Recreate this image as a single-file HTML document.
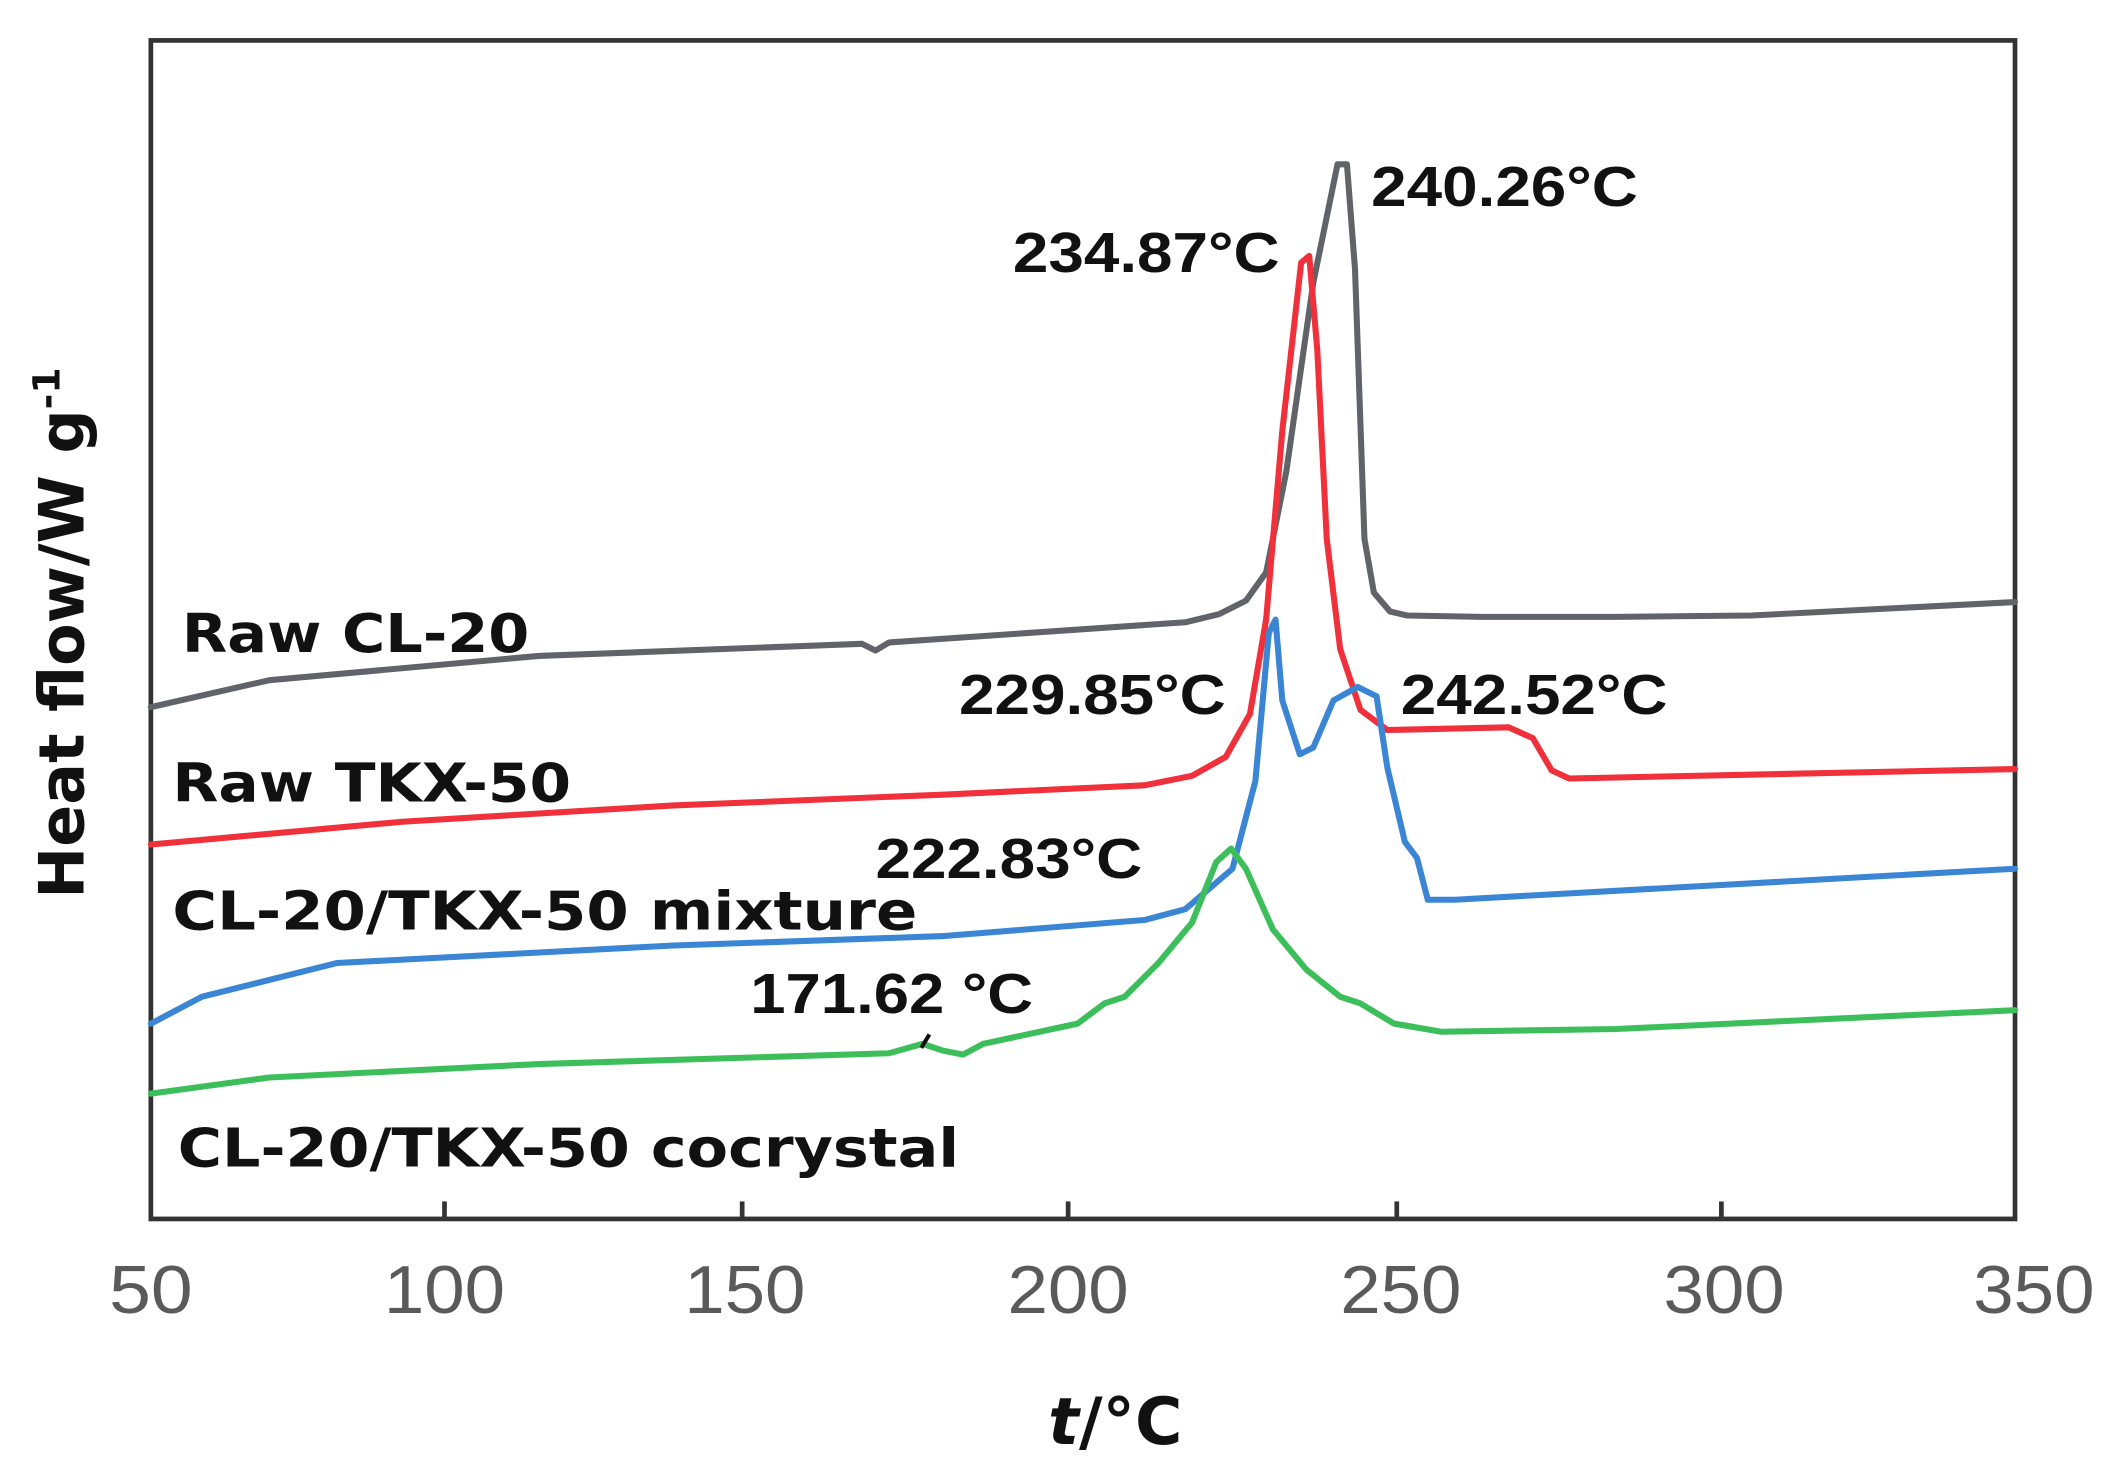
<!DOCTYPE html>
<html><head><meta charset="utf-8"><style>
html,body{margin:0;padding:0;background:#fff;}
svg{display:block;}
.lab{font-family:"DejaVu Sans","Liberation Sans",sans-serif;font-weight:bold;fill:#111;}
.ann{font-family:"Liberation Sans",sans-serif;font-weight:bold;fill:#111;}
.tick{font-family:"Liberation Sans",sans-serif;fill:#5a5a5a;}
</style></head><body>
<svg width="2112" height="1477" viewBox="0 0 1568 1096.6" preserveAspectRatio="none" xmlns="http://www.w3.org/2000/svg">
<rect x="112" y="30" width="1384" height="875" fill="none" stroke="#333" stroke-width="3.5"/>
<g stroke="#333" stroke-width="3.5">
<line x1="330" y1="905" x2="330" y2="892"/>
<line x1="551" y1="905" x2="551" y2="892"/>
<line x1="793" y1="905" x2="793" y2="892"/>
<line x1="1037" y1="905" x2="1037" y2="892"/>
<line x1="1278" y1="905" x2="1278" y2="892"/>
</g>
<g class="tick" font-size="50" text-anchor="middle">
<text x="112" y="975" textLength="62" lengthAdjust="spacingAndGlyphs">50</text><text x="330" y="975" textLength="90" lengthAdjust="spacingAndGlyphs">100</text><text x="553" y="975" textLength="90" lengthAdjust="spacingAndGlyphs">150</text>
<text x="793" y="975" textLength="90" lengthAdjust="spacingAndGlyphs">200</text><text x="1040" y="975" textLength="90" lengthAdjust="spacingAndGlyphs">250</text><text x="1280" y="975" textLength="90" lengthAdjust="spacingAndGlyphs">300</text><text x="1510" y="975" textLength="90" lengthAdjust="spacingAndGlyphs">350</text>
</g>
<g fill="none" stroke-width="4.5" stroke-linejoin="round" stroke-linecap="round">
<path stroke="#606468" d="M112,525 L200,505 L400,487 L640,478 L650,483 L660,477 L880,462 L905,456 L925,446 L940,425 L955,350 L975,210 L993,122 L1000,122 L1006,200 L1013,400 L1020,440 L1032,454 L1045,457 L1100,458 L1200,458 L1300,457 L1496,447"/>
<path stroke="#f0303a" d="M112,627 L300,610 L500,598 L700,590 L850,583 L885,576 L910,562 L928,530 L940,460 L952,320 L966,195 L972,190 L978,260 L985,400 L995,482 L1010,527 L1030,542 L1120,540 L1138,548 L1152,572 L1165,578 L1496,571"/>
<path stroke="#3a86d4" d="M112,760 L150,740 L250,715 L500,702 L700,695 L850,683 L880,675 L915,645 L932,580 L942,470 L947,460 L952,520 L965,560 L975,555 L990,520 L1008,510 L1022,517 L1030,570 L1043,625 L1052,637 L1060,668 L1080,668 L1496,645"/>
<path stroke="#3cbf5a" d="M112,812 L200,800 L400,790 L660,782 L685,775 L700,780 L715,783 L730,775 L800,760 L820,745 L835,740 L860,715 L885,685 L903,640 L914,630 L925,645 L945,690 L970,720 L995,740 L1010,745 L1035,760 L1070,766 L1200,764 L1496,750"/>
</g>
<g class="lab" font-size="40">
<text x="135" y="484" textLength="258" lengthAdjust="spacingAndGlyphs">Raw CL-20</text>
<text x="128" y="595" textLength="296" lengthAdjust="spacingAndGlyphs">Raw TKX-50</text>
<text x="128" y="690" textLength="553" lengthAdjust="spacingAndGlyphs">CL-20/TKX-50 mixture</text>
<text x="132" y="866" textLength="580" lengthAdjust="spacingAndGlyphs">CL-20/TKX-50 cocrystal</text>
</g>
<g class="ann" font-size="42">
<text x="1018" y="153" textLength="198" lengthAdjust="spacingAndGlyphs">240.26°C</text>
<text x="752" y="202" textLength="198" lengthAdjust="spacingAndGlyphs">234.87°C</text>
<text x="712" y="530" textLength="198" lengthAdjust="spacingAndGlyphs">229.85°C</text>
<text x="1040" y="530" textLength="198" lengthAdjust="spacingAndGlyphs">242.52°C</text>
<text x="650" y="652" textLength="198" lengthAdjust="spacingAndGlyphs">222.83°C</text>
<text x="557" y="752" textLength="210" lengthAdjust="spacingAndGlyphs">171.62 °C</text>
</g>
<path d="M684,778 L690,768" stroke="#111" stroke-width="3"/>
<text class="lab" font-size="46" transform="translate(62,470) rotate(-90)" text-anchor="middle">Heat flow/W g<tspan font-size="28" dy="-18">-1</tspan></text>
<text class="lab" font-size="48" x="828" y="1072" text-anchor="middle"><tspan font-style="italic">t</tspan>/°C</text>
</svg>
</body></html>
